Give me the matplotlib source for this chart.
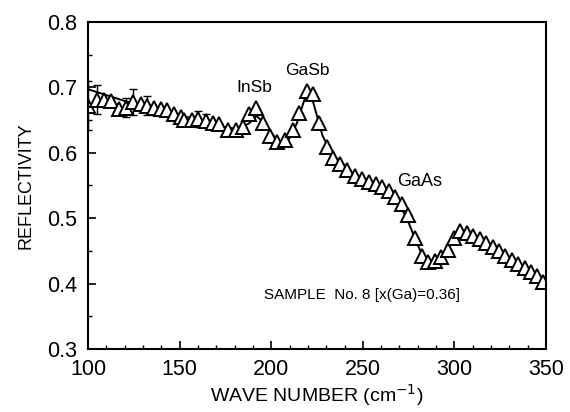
import numpy as np
import matplotlib.pyplot as plt
from matplotlib.ticker import MultipleLocator

plt.rcParams['font.family'] = ['Liberation Sans', 'DejaVu Sans']

# measured points (open triangles)
wave = [100, 104.7, 108.5, 112.5, 116.9, 120.6, 124.7, 128.7, 132.4, 136, 139.7,
        143.3, 147, 150.6, 152.4, 156.6, 160.2, 164.4, 168, 171.7, 176.6, 180.8,
        184.8, 188, 191.7, 195.7, 199.5, 203, 207.5, 211.7, 215.3, 219.4, 222.8,
        226.3, 230.3, 233.9, 237.5, 241.5, 245.7, 249.5, 253.3, 257, 260.7, 264.3,
        267.8, 271.2, 274.8, 278.5, 282.2, 285.8, 289.3, 292.8, 296.3, 299.8,
        303.3, 306.8, 310.3, 313.8, 317.3, 320.8, 324.3, 327.8, 331.3, 334.8,
        338.3, 341.8, 345.3, 348.5]
refl = [0.672, 0.681, 0.680, 0.679, 0.667, 0.669, 0.677, 0.674, 0.672, 0.669, 0.667,
        0.665, 0.659, 0.654, 0.650, 0.650, 0.652, 0.649, 0.646, 0.644, 0.634, 0.635,
        0.639, 0.659, 0.668, 0.646, 0.625, 0.616, 0.619, 0.634, 0.660, 0.695, 0.690,
        0.645, 0.609, 0.592, 0.582, 0.574, 0.565, 0.560, 0.555, 0.552, 0.548, 0.542,
        0.533, 0.522, 0.505, 0.470, 0.442, 0.433, 0.435, 0.440, 0.452, 0.470,
        0.480, 0.477, 0.472, 0.468, 0.462, 0.456, 0.449, 0.442, 0.436, 0.430,
        0.424, 0.418, 0.411, 0.403]
# error bar half-widths (mostly hidden behind markers)
err = [0.038, 0.022, 0.0, 0.0, 0.0, 0.014, 0.02, 0.0, 0.014, 0.0, 0.0,
       0.0, 0.0, 0.0, 0.0, 0.0, 0.012, 0.01, 0.0, 0.0, 0.0, 0.0] + [0.0] * 46

# fitted curve
fit_x = [100, 120, 140, 160, 175, 182, 188, 192, 196, 200, 204, 207, 210, 214,
         218, 220, 222, 225, 228, 232, 236, 240, 245, 250, 255, 260, 265, 270,
         274, 278, 282, 285, 288, 292, 296, 300, 303, 306, 310, 320, 330, 340, 350]
fit_y = [0.697, 0.679, 0.665, 0.650, 0.639, 0.636, 0.645, 0.656, 0.646, 0.630,
         0.618, 0.615, 0.622, 0.645, 0.680, 0.690, 0.686, 0.656, 0.626, 0.604,
         0.590, 0.578, 0.568, 0.560, 0.552, 0.545, 0.535, 0.520, 0.500, 0.472,
         0.446, 0.436, 0.432, 0.437, 0.450, 0.468, 0.478, 0.478, 0.471, 0.455,
         0.437, 0.420, 0.399]

fig = plt.figure(figsize=(5.7, 4.12), dpi=100)
ax = fig.add_axes([0.1544, 0.153, 0.8036, 0.794])

ax.plot(fit_x, fit_y, color='black', lw=1.4)
ax.errorbar(wave, refl, yerr=err, fmt='none', ecolor='black', elinewidth=1.0,
            capsize=3, capthick=1.0)
ax.plot(wave, refl, linestyle='none', marker='^', markersize=10,
        markerfacecolor='white', markeredgecolor='black', markeredgewidth=1.4)

ax.text(191, 0.688, 'InSb', ha='center', va='bottom', fontsize=12.5)
ax.text(219.5, 0.714, 'GaSb', ha='center', va='bottom', fontsize=12.5)
ax.text(281, 0.556, 'GaAs', ha='center', va='center', fontsize=13)
ax.text(249.5, 0.382, 'SAMPLE  No. 8 [x(Ga)=0.36]', ha='center', va='center',
        fontsize=11)

ax.set_xlim(100, 350)
ax.set_ylim(0.3, 0.8)
ax.xaxis.set_major_locator(MultipleLocator(50))
ax.xaxis.set_minor_locator(MultipleLocator(10))
ax.yaxis.set_major_locator(MultipleLocator(0.1))
ax.yaxis.set_minor_locator(MultipleLocator(0.05))
ax.tick_params(which='both', direction='in', top=False, right=False, labelsize=15.5)
ax.tick_params(which='major', length=6, width=1.2)
ax.tick_params(axis='x', which='major', pad=7)
ax.tick_params(axis='y', which='major', pad=8)
ax.tick_params(which='minor', length=3, width=1.0)
ax.yaxis.set_major_formatter(plt.FuncFormatter(lambda v, p: f'{v:.1f}'))
for s in ax.spines.values():
    s.set_linewidth(1.5)

ax.set_xlabel('WAVE NUMBER (cm$^{-1}$)', fontsize=14, labelpad=2)
ax.set_ylabel('REFLECTIVITY', fontsize=13, labelpad=9)

fig.savefig('out.png', dpi=100)
